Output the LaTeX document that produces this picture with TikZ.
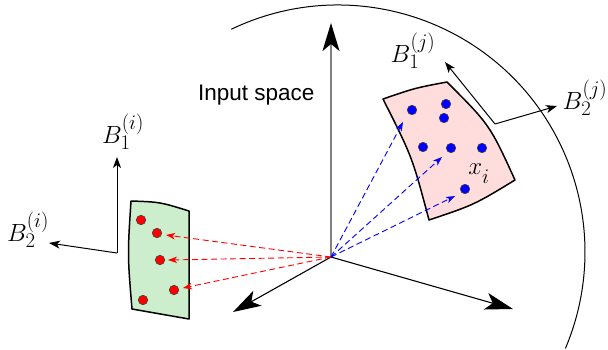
\documentclass[tikz,border=0pt]{standalone}
\usepackage{fontspec}
\newfontfamily\arialfont{Liberation Sans}
\usetikzlibrary{arrows.meta}
\definecolor{patchgreen}{RGB}{205,238,205}
\definecolor{patchpink}{RGB}{255,221,221}
\begin{document}
\begin{tikzpicture}[x=1pt,y=-1pt,
  bigaxis/.style={line width=1.1pt,-{Stealth[length=28pt,width=17pt,inset=7pt,color=black]}},
  frame/.style={line width=1pt,-{Stealth[length=11pt,width=8pt,inset=3pt]}},
  reddash/.style={red,line width=0.9pt,dash pattern=on 6pt off 3.5pt,-{Stealth[length=9pt,width=6.5pt,inset=2.5pt]}},
  bluedash/.style={blue,line width=0.9pt,dash pattern=on 6pt off 3.5pt,-{Stealth[length=9pt,width=6.5pt,inset=2.5pt]}},
  reddot/.style={circle,fill=red,draw=black!75,line width=0.6pt,inner sep=0pt,minimum size=9.5pt},
  bluedot/.style={circle,fill=blue,draw=black!75,line width=0.6pt,inner sep=0pt,minimum size=9.5pt},
  patch/.style={draw=black,line width=1.5pt,line join=round},
  lab/.style={font=\Huge,inner sep=0pt}]
\useasboundingbox (0,0) rectangle (608,349);

% big circle arc
\draw[line width=1pt] (338,252) ++(244.4:247) arc[start angle=244.4,end angle=383,radius=247];

% patches
\draw[patch,fill=patchgreen] (131,201) .. controls (160,202) .. (189,211) -- (189,319) -- (132,309) .. controls (127.5,255) .. cycle;
\draw[patch,fill=patchpink] (383,99) .. controls (415,88) .. (447,82) .. controls (489.8,124.9) .. (515,180) .. controls (474.2,204.8) .. (429,220) .. controls (412.3,157.1) .. cycle;

% axes
\coordinate (O) at (331,257);
\coordinate (Ay) at (331,23);
\coordinate (Al) at (233,312);
\coordinate (Ar) at (513,309);
\draw[bigaxis,draw=gray,line width=1.4pt] (O) -- (Ay);
\draw[bigaxis] (O) -- (Al);
\draw[bigaxis] (O) -- (Ar);

% local frame i
\coordinate (Ci) at (117,253);
\coordinate (Ci1) at (117,157);
\coordinate (Ci2) at (49,243);
\draw[frame] (Ci) -- (Ci1);
\draw[frame] (Ci) -- (Ci2);
% local frame j
\coordinate (Cj) at (495,124);
\coordinate (Cj1) at (445,62);
\coordinate (Cj2) at (557,106);
\draw[frame] (Cj) -- (Cj1);
\draw[frame] (Cj) -- (Cj2);

% red dots
\node[reddot] (r1) at (141,220) {};
\node[reddot] (r2) at (157,233) {};
\node[reddot] (r3) at (160,260) {};
\node[reddot] (r4) at (174,290) {};
\node[reddot] (r5) at (143,300) {};
% blue dots
\node[bluedot] (b1) at (412,110) {};
\node[bluedot] (b2) at (446,104) {};
\node[bluedot] (b3) at (444,118) {};
\node[bluedot] (b4) at (423,147) {};
\node[bluedot] (b5) at (451,148) {};
\node[bluedot] (b6) at (482,148) {};
\node[bluedot] (b7) at (465,189) {};

% dashed arrows
\coordinate (rt2) at (166,235);
\coordinate (rt3) at (168,260);
\coordinate (rt4) at (183,288);
\coordinate (bt1) at (403,122);
\coordinate (bt5) at (442,157);
\coordinate (bt7) at (455,196);
\draw[reddash] (O) -- (rt2);
\draw[reddash] (O) -- (rt3);
\draw[reddash] (O) -- (rt4);
\draw[bluedash] (O) -- (bt1);
\draw[bluedash] (O) -- (bt5);
\draw[bluedash] (O) -- (bt7);

% labels
\node[lab] (Bi1) at (123,132) {$B_1^{(i)}$};
\node[lab] (Bi2) at (28,230) {$B_2^{(i)}$};
\node[lab] (Bj1) at (413,51) {$B_1^{(j)}$};
\node[lab] (Bj2) at (585,98) {$B_2^{(j)}$};
\node[lab] (xi) at (479,174) {$x_{\raisebox{-5pt}{$\scriptstyle i$}}$};
\node[anchor=base west,inner sep=0pt,font=\arialfont\fontsize{22.5}{27}\selectfont] (title) at (198,100) {Input space};
\end{tikzpicture}
\end{document}
